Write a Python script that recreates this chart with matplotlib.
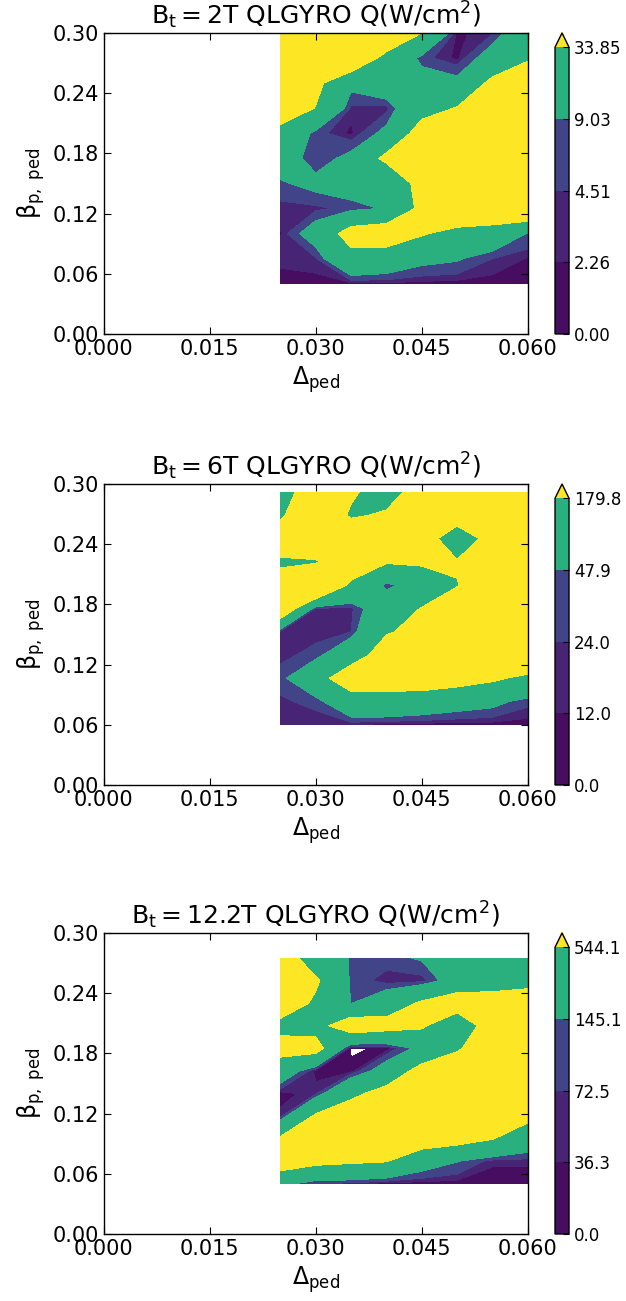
import numpy as np
import matplotlib
matplotlib.use('Agg')
import matplotlib.pyplot as plt

# grid of pedestal width (columns) shared by all scans
delta_ped = [0.025, 0.030, 0.035, 0.040, 0.045, 0.050, 0.055, 0.060]

# Bt = 2T scan
beta_2t = [0.05, 0.075, 0.10, 0.125, 0.15, 0.175, 0.20, 0.225, 0.25, 0.275, 0.30]
q_2t = [
    [1.0, 1.0, 1.2, 1.5, 1.2, 1.0, 1.0, 0.8],
    [3.0, 4.0, 25.0, 20.0, 12.0, 10.0, 4.5, 2.0],
    [2.0, 15.0, 45.0, 50.0, 36.0, 25.0, 20.0, 8.5],
    [3.0, 3.5, 6.0, 10.0, 40.0, 60.0, 60.0, 60.0],
    [8.0, 12.0, 15.0, 9.0, 45.0, 60.0, 60.0, 60.0],
    [15.0, 5.0, 12.0, 40.0, 60.0, 60.0, 60.0, 60.0],
    [25.0, 6.0, 1.5, 12.0, 45.0, 60.0, 60.0, 60.0],
    [50.0, 33.0, 3.5, 3.0, 25.0, 35.0, 60.0, 60.0],
    [60.0, 40.0, 12.0, 20.0, 15.0, 12.0, 40.0, 60.0],
    [60.0, 60.0, 60.0, 25.0, 6.0, 1.5, 15.0, 30.0],
    [60.0, 60.0, 60.0, 60.0, 34.0, 1.5, 4.0, 20.0],
]
levels_2t = [0.0, 2.2567, 4.5133, 9.0267, 33.85]
labels_2t = ['0.00', '2.26', '4.51', '9.03', '33.85']

# Bt = 6T scan
beta_6t = [0.06, 0.0832, 0.1064, 0.1296, 0.1528, 0.176, 0.1992, 0.2224, 0.2456, 0.2688, 0.292]
q_6t = [
    [16, 16, 12, 5, 5, 5, 5, 5],
    [21, 29, 120, 133, 106, 80, 64, 30],
    [32, 130, 260, 240, 265, 240, 200, 150],
    [19, 30, 120, 240, 320, 320, 320, 320],
    [19, 18, 24, 170, 212, 320, 320, 320],
    [300, 22, 19, 100, 185, 240, 320, 320],
    [240, 400, 150, 35, 80, 175, 265, 320],
    [159, 165, 292, 191, 202, 191, 265, 320],
    [265, 320, 320, 320, 265, 80, 240, 320],
    [159, 320, 159, 202, 320, 265, 320, 320],
    [80, 320, 202, 106, 265, 320, 320, 320],
]
levels_6t = [0.0, 11.99, 23.97, 47.95, 179.8]
labels_6t = ['0.0', '12.0', '24.0', '47.9', '179.8']

# Bt = 12.2T scan
beta_12t = [0.05, 0.0725, 0.095, 0.1175, 0.14, 0.1625, 0.185, 0.2075, 0.23, 0.2525, 0.275]
q_12t = [
    [200, 60, 50, 5, 15, 15, 10, 10],
    [800, 650, 600, 560, 250, 150, 45, 45],
    [600, 800, 800, 800, 800, 700, 560, 300],
    [50, 600, 800, 800, 800, 800, 800, 650],
    [15, 60, 450, 700, 800, 800, 800, 800],
    [300, 15, 15, 250, 700, 800, 800, 800],
    [700, 700, -10, 10, 200, 500, 800, 800],
    [420, 400, 800, 700, 600, 200, 800, 800],
    [800, 480, 140, 300, 600, 800, 800, 800],
    [800, 600, 120, 40, 45, 250, 300, 400],
    [800, 300, 130, 110, 160, 300, 300, 300],
]
levels_12t = [0.0, 36.27, 72.55, 145.1, 544.1]
labels_12t = ['0.0', '36.3', '72.5', '145.1', '544.1']

titles = [r'$\mathrm{B_t = 2T}$ QLGYRO Q(W/cm$^2$)',
          r'$\mathrm{B_t = 6T}$ QLGYRO Q(W/cm$^2$)',
          r'$\mathrm{B_t = 12.2T}$ QLGYRO Q(W/cm$^2$)']

plt.rcParams['mathtext.fontset'] = 'dejavusans'
plt.rcParams['xtick.direction'] = 'in'
plt.rcParams['ytick.direction'] = 'in'
plt.rcParams['xtick.top'] = True
plt.rcParams['ytick.right'] = True
plt.rcParams['xtick.major.size'] = 5
plt.rcParams['ytick.major.size'] = 5
plt.rcParams['axes.linewidth'] = 1.0

fig = plt.figure(figsize=(6.26, 13.01), dpi=100)

panels = [
    (beta_2t, q_2t, levels_2t, labels_2t),
    (beta_6t, q_6t, levels_6t, labels_6t),
    (beta_12t, q_12t, levels_12t, labels_12t),
]
bottoms = [0.7433, 0.3966, 0.0515]

for i, (beta, q, levels, labels) in enumerate(panels):
    ax = fig.add_axes([0.166, bottoms[i], 0.677, 0.2314])
    cax = fig.add_axes([0.8866, bottoms[i], 0.0224, 0.2314])
    X, Y = np.meshgrid(delta_ped, beta)
    cs = ax.contourf(X, Y, np.array(q), levels=levels, cmap='viridis', extend='max')
    ax.set_xlim(0, 0.06)
    ax.set_ylim(0, 0.30)
    ax.set_xticks([0.0, 0.015, 0.030, 0.045, 0.060])
    ax.set_xticklabels(['0.000', '0.015', '0.030', '0.045', '0.060'])
    ax.set_yticks([0.0, 0.06, 0.12, 0.18, 0.24, 0.30])
    ax.set_yticklabels(['0.00', '0.06', '0.12', '0.18', '0.24', '0.30'])
    ax.tick_params(labelsize=15)
    ax.set_title(titles[i], fontsize=18)
    ax.set_xlabel(r'$\Delta_{\mathrm{ped}}$', fontsize=17)
    ax.set_ylabel(r'$\mathrm{\beta_{p,\ ped}}$', fontsize=17)

    cb = fig.colorbar(cs, cax=cax)
    cb.set_ticks(levels)
    cb.set_ticklabels(labels)
    cb.ax.tick_params(labelsize=12, direction='in', length=4)

plt.savefig('out.png', dpi=100)
